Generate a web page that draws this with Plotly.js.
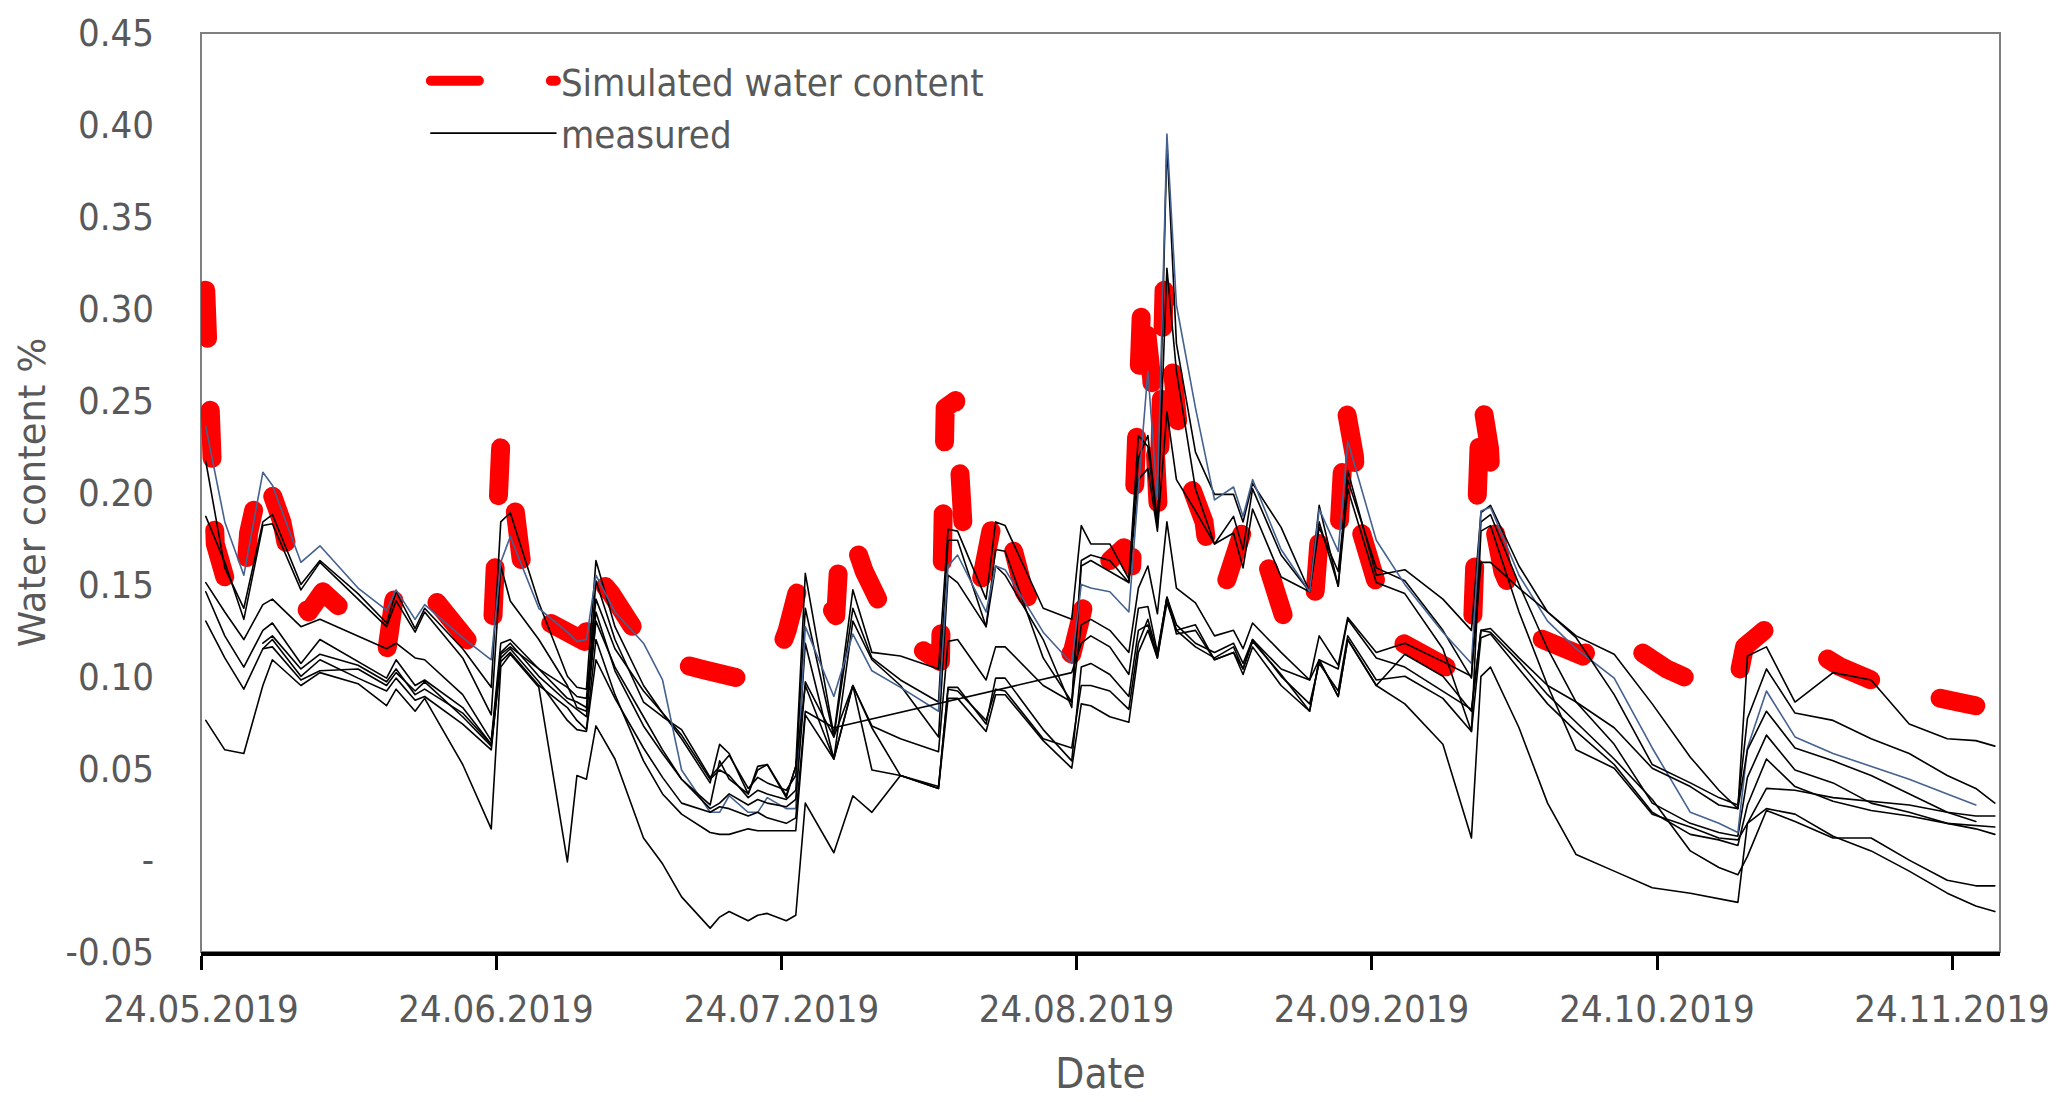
<!DOCTYPE html>
<html>
<head>
<meta charset="utf-8">
<script src="https://cdn.plot.ly/plotly-3.0.1.min.js"></script>
<style>
  html, body { margin: 0; padding: 0; background: #fff; }
  #chart { width: 2067px; height: 1102px; }
  .js-line { stroke-linecap: round; stroke-linejoin: round; }
</style>
</head>
<body>
<div id="chart"></div>
<script>
// days after 24.05.2019 (measurements logged around noon)
const measDays = [0.5, 2.5, 4.5, 6.5, 7.5, 10.5, 12.5, 16.5, 19.5, 20.5, 22.5, 23.5, 27.5, 30.5,
  31.5, 32.5, 35.5, 38.5, 39.5, 40.5, 41.5, 43.5, 46.5, 48.5, 50.5, 53.5, 54.5, 55.5, 57.5, 58.5, 59.5, 61.5, 62.5,
  63.5, 66.5, 68.5, 70.5, 73.5, 77.5, 78.5, 79.5, 82.5, 83.5, 84.5, 88.5, 91.5, 92.5,
  93.5, 95.5, 97.5, 98.5, 99.5, 100.5, 101.5, 102.5, 104.5, 106.5, 108.5, 109.5, 110.5, 113.5, 116.5, 117.5, 119.5, 120.5, 123.5,
  126.5, 130.5, 133.5, 134.5, 135.5, 138.5, 141.5, 144.5, 148.5, 152.5, 156.5, 159.5,
  161.5, 162.5, 164.5, 167.5, 171.5, 175.5, 179.5, 183.5, 186.5, 188.5];

// measured probes (blue one is drawn in slate blue)
const probeBlue = [0.236, 0.184, 0.155, 0.211, 0.204, 0.162, 0.171, 0.148, 0.136, 0.147, 0.131, 0.139, 0.121, 0.109,
  0.162, 0.176, 0.137, 0.124, 0.119, 0.120, 0.155, 0.135, 0.118, 0.098, 0.049, 0.026, 0.026, 0.035, 0.026, 0.026, 0.034, 0.028, 0.028,
  0.127, 0.089, 0.123, 0.103, 0.094, 0.081, 0.160, 0.166, 0.135, 0.160, 0.158, 0.124, 0.107, 0.150,
  0.148, 0.146, 0.135, 0.202, 0.266, 0.196, 0.395, 0.302, 0.246, 0.196, 0.203, 0.187, 0.207, 0.169, 0.146, 0.191, 0.168, 0.228, 0.174,
  0.150, 0.124, 0.107, 0.190, 0.192, 0.155, 0.130, 0.115, 0.099, 0.061, 0.026, 0.020,
  0.015, 0.061, 0.092, 0.067, 0.058, 0.051, 0.044, 0.036, 0.030, null];
const probe1 = [0.217, 0.159, 0.137, 0.184, 0.188, 0.150, 0.163, 0.145, 0.129, 0.146, 0.126, 0.137, 0.115, 0.094,
  0.184, 0.189, 0.140, 0.100, 0.094, 0.093, 0.163, 0.127, 0.095, 0.080, 0.066, 0.042, 0.063, 0.058, 0.036, 0.049, 0.052, 0.035, 0.051,
  0.156, 0.068, 0.147, 0.113, 0.111, 0.104, 0.180, 0.179, 0.142, 0.184, 0.182, 0.137, 0.131, 0.182,
  0.172, 0.172, 0.153, 0.231, 0.225, 0.181, 0.390, 0.281, 0.222, 0.199, 0.199, 0.184, 0.205, 0.181, 0.146, 0.193, 0.149, 0.212, 0.155,
  0.158, 0.142, 0.125, 0.189, 0.193, 0.160, 0.135, 0.122, 0.112, 0.085, 0.056, 0.038,
  0.028, 0.111, 0.116, 0.086, 0.102, 0.098, 0.074, 0.066, 0.065, 0.062];
const probe2 = [0.187, 0.162, 0.131, 0.182, 0.183, 0.147, 0.162, 0.142, 0.127, 0.141, 0.124, 0.135, 0.110, 0.079,
  0.160, 0.141, 0.120, 0.095, 0.083, 0.081, 0.152, 0.120, 0.086, 0.078, 0.071, 0.045, 0.051, 0.057, 0.039, 0.045, 0.042, 0.038, 0.046,
  0.137, 0.067, 0.137, 0.110, 0.098, 0.086, 0.174, 0.174, 0.127, 0.169, 0.168, 0.110, 0.086, 0.163,
  0.166, 0.163, 0.151, 0.219, 0.231, 0.184, 0.322, 0.266, 0.202, 0.172, 0.187, 0.169, 0.202, 0.166, 0.146, 0.181, 0.157, 0.207, 0.159,
  0.152, 0.125, 0.099, 0.184, 0.188, 0.150, 0.115, 0.086, 0.063, 0.031, 0.020, 0.015,
  0.013, 0.045, 0.068, 0.049, 0.042, 0.031, 0.026, 0.020, 0.017, 0.014];
const probe3 = [0.151, 0.135, 0.120, 0.139, 0.142, 0.127, 0.131, 0.122, 0.115, 0.118, 0.110, 0.109, 0.090, 0.065,
  0.118, 0.120, 0.104, 0.094, 0.089, 0.088, 0.142, 0.115, 0.092, 0.080, 0.068, 0.044, 0.049, 0.046, 0.034, 0.038, 0.036, 0.033, 0.038,
  0.118, 0.055, 0.130, 0.109, 0.095, 0.067, 0.155, 0.151, 0.127, 0.160, 0.155, 0.120, 0.083, 0.160,
  0.163, 0.157, 0.151, 0.207, 0.213, 0.179, 0.244, 0.207, 0.190, 0.172, 0.178, 0.159, 0.191, 0.154, 0.146, 0.184, 0.149, 0.202, 0.151,
  0.145, 0.115, 0.070, 0.179, 0.182, 0.135, 0.095, 0.060, 0.050, 0.025, 0.018, 0.012,
  0.011, 0.020, 0.039, 0.038, 0.034, 0.032, 0.030, 0.026, 0.024, 0.024];
const probe4 = [0.146, 0.122, 0.105, 0.125, 0.129, 0.107, 0.120, 0.108, 0.099, 0.109, 0.095, 0.098, 0.083, 0.063,
  0.113, 0.118, 0.100, 0.086, 0.082, 0.078, 0.130, 0.105, 0.078, 0.060, 0.044, 0.028, 0.031, 0.036, 0.030, 0.033, 0.031, 0.029, 0.033,
  0.097, 0.067, 0.095, 0.073, 0.066, 0.059, 0.119, 0.120, 0.098, 0.116, 0.116, 0.095, 0.086, 0.128,
  0.131, 0.125, 0.113, 0.148, 0.160, 0.134, 0.184, 0.148, 0.140, 0.122, 0.125, 0.115, 0.129, 0.113, 0.098, 0.122, 0.106, 0.132, 0.113,
  0.118, 0.108, 0.100, 0.162, 0.162, 0.148, 0.135, 0.121, 0.090, 0.052, 0.042, 0.034,
  0.030, 0.077, 0.104, 0.080, 0.076, 0.066, 0.058, 0.046, 0.039, 0.031];
// probe 5 has no readings from 26.07 to 21.08 (Excel joins the gap with a straight line)
const probe5 = [0.130, 0.110, 0.093, 0.115, 0.120, 0.100, 0.109, 0.099, 0.092, 0.099, 0.087, 0.089, 0.074, 0.060,
  0.110, 0.115, 0.097, 0.076, 0.071, 0.070, 0.109, 0.088, 0.061, 0.045, 0.031, 0.026, 0.029, 0.028, 0.024, 0.026, 0.023, 0.020, 0.023,
  0.081, 0.072, null, null, null, null, null, null, null, null, null, null, 0.102, 0.118,
  0.122, 0.116, 0.101, 0.137, 0.138, 0.113, 0.143, 0.128, 0.118, 0.113, 0.118, 0.107, 0.120, 0.104, 0.098, 0.109, 0.104, 0.131, 0.110,
  0.105, 0.092, 0.082, 0.125, 0.126, 0.110, 0.095, 0.086, 0.072, 0.050, 0.040, 0.030,
  0.028, 0.060, 0.081, 0.061, 0.054, 0.046, 0.036, 0.026, 0.021, null];
const probe6 = [null, null, null, 0.115, 0.116, 0.098, 0.103, 0.104, 0.095, 0.102, 0.092, 0.097, 0.078, 0.062,
  0.108, 0.113, 0.095, 0.083, 0.076, 0.071, 0.120, 0.090, 0.054, 0.036, 0.025, 0.015, 0.014, 0.014, 0.017, 0.016, 0.016, 0.016, 0.016,
  0.079, 0.055, 0.095, 0.072, 0.046, 0.039, 0.094, 0.094, 0.074, 0.099, 0.099, 0.071, 0.054, 0.105,
  0.107, 0.101, 0.089, 0.125, 0.128, 0.110, 0.140, 0.125, 0.116, 0.110, 0.116, 0.104, 0.119, 0.101, 0.081, 0.109, 0.089, 0.120, 0.095,
  0.112, 0.100, 0.081, 0.125, 0.124, 0.108, 0.090, 0.075, 0.055, 0.033, 0.005, -0.004,
  -0.008, 0.002, 0.027, 0.021, 0.012, 0.012, 0.000, -0.011, -0.014, -0.014];
const probe7 = [null, null, null, 0.118, 0.122, 0.104, 0.112, 0.106, 0.097, 0.104, 0.090, 0.093, 0.080, 0.063,
  0.112, 0.116, 0.104, 0.088, 0.086, 0.083, 0.135, 0.103, 0.073, 0.058, 0.044, 0.030, 0.054, 0.044, 0.036, 0.051, 0.052, 0.034, 0.051,
  0.095, 0.055, 0.095, 0.049, 0.046, 0.040, 0.093, 0.092, 0.076, 0.093, 0.092, 0.066, 0.061, 0.095,
  0.095, 0.092, 0.082, 0.118, 0.131, 0.112, 0.143, 0.125, 0.128, 0.109, 0.113, 0.104, 0.120, 0.100, 0.085, 0.107, 0.092, 0.122, 0.098,
  0.100, 0.088, 0.070, 0.121, 0.123, 0.104, 0.085, 0.070, 0.052, 0.026, 0.014, 0.011,
  0.008, 0.030, 0.055, 0.040, 0.032, 0.027, 0.024, 0.020, 0.019, 0.018];
const probe8 = [0.076, 0.060, 0.058, 0.095, 0.109, 0.095, 0.102, 0.096, 0.084, 0.093, 0.081, 0.088, 0.052, 0.017,
  0.105, 0.112, 0.094, -0.001, 0.046, 0.044, 0.073, 0.055, 0.012, -0.002, -0.020, -0.037, -0.031, -0.028, -0.033, -0.030, -0.029, -0.033, -0.030,
  0.031, 0.004, 0.035, 0.026, 0.046, 0.039, 0.088, 0.088, 0.070, 0.090, 0.090, 0.065, 0.050, 0.085,
  0.084, 0.078, 0.075, 0.113, 0.125, 0.110, 0.143, 0.123, 0.125, 0.109, 0.113, 0.101, 0.116, 0.095, 0.081, 0.109, 0.089, 0.120, 0.095,
  0.085, 0.063, 0.012, 0.100, 0.105, 0.072, 0.031, 0.003, -0.006, -0.015, -0.018, -0.021,
  -0.023, 0.020, 0.028, 0.025, 0.013, 0.005, -0.006, -0.018, -0.025, -0.028];

// simulated water content
const simDays = [0.5, 1.5, 3.0, 4.5, 5.0, 6.5, 8.5, 10.0, 11.3, 12.8, 14.5, 15.8, 19.5, 20.5, 22.5, 24.5, 27.0, 29.5, 30.5,
  31.5, 32.9, 33.8, 36.3, 40.3, 41.5, 43.1, 46.2, 49.5, 52.5, 56.5, 58.1, 60.0, 61.6, 63.2, 64.4, 66.7, 67.2, 68.5, 69.7,
  72.8, 77.7, 78.2, 79.3, 79.7, 80.1, 81.9, 82.7, 83.5, 84.8, 86.5, 89.6, 91.5, 92.6, 93.8, 95.5, 97.0, 97.8,
  98.2, 98.9, 99.9, 100.6, 101.2, 102.2, 103.1, 105.4, 106.3, 107.7, 108.4, 109.9, 111.6, 113.8, 115.5, 116.8,
  117.5, 118.3, 119.5, 120.3, 121.2, 121.6, 123.5, 125.6, 131.6, 133.5, 134.5, 135.4, 135.8, 136.8, 139.6, 145.2,
  147.5, 149.1, 154.0, 157.0, 160.4, 161.5, 162.2, 164.5, 166.7, 172.3, 175.5, 178.3, 184.6, 186.5];
const simValues = [0.310, 0.172, 0.145, 0.143, 0.178, 0.213, 0.184, 0.145, 0.135, 0.146, 0.138, 0.131, 0.113, 0.150, 0.137, 0.142, 0.124, 0.110, 0.112,
  0.226, 0.195, 0.157, 0.130, 0.119, 0.155, 0.145, 0.120, 0.108, 0.104, 0.099, 0.100, 0.102, 0.125, 0.157, 0.152, 0.133, 0.178, 0.175, 0.157,
  0.124, 0.108, 0.246, 0.250, 0.217, 0.180, 0.150, 0.168, 0.192, 0.180, 0.146, 0.120, 0.112, 0.135, 0.166, 0.163, 0.170, 0.160,
  0.205, 0.310, 0.262, 0.190, 0.310, 0.249, 0.216, 0.184, 0.147, 0.151, 0.163, 0.186, 0.168, 0.132, 0.125, 0.127,
  0.175, 0.163, 0.172, 0.246, 0.220, 0.184, 0.151, 0.120, 0.103, 0.112, 0.253, 0.224, 0.184, 0.157, 0.123, 0.111,
  0.124, 0.121, 0.104, 0.097, 0.092, 0.098, 0.116, 0.126, 0.123, 0.105, 0.098, 0.093, 0.086, 0.084];

const yTickVals = [-0.05, 0, 0.05, 0.10, 0.15, 0.20, 0.25, 0.30, 0.35, 0.40, 0.45];
const yTickText = ['-0.05', '-', '0.05', '0.10', '0.15', '0.20', '0.25', '0.30', '0.35', '0.40', '0.45'];

function dayToDate(d) {
  const t = Date.UTC(2019, 4, 24) + d * 86400000;
  return new Date(t).toISOString().slice(0, 16).replace('T', ' ');
}
const measDates = measDays.map(dayToDate);
const simDates = simDays.map(dayToDate);

const textGrey = '#595959';
const narrow = '"Liberation Sans Narrow", "DejaVu Sans Condensed", "Liberation Sans", sans-serif';

var simTrace = {
  x: simDates,
  y: simValues,
  mode: 'lines',
  name: 'Simulated water content',
  line: {color: '#ff0000', width: 19, dash: '48px,72px'},
};

var probes = [probe1, probe2, probe3, probeBlue, probe4, probe5, probe6, probe7, probe8];
var measTraces = probes.map(function (vals, i) {
  return {
    x: measDates,
    y: vals,
    mode: 'lines',
    name: 'measured',
    legendgroup: 'measured',
    showlegend: i === 0,
    connectgaps: vals === probe5,
    line: {color: vals === probeBlue ? '#44618f' : '#000000', width: 1.6},
  };
});

var data = [simTrace].concat(measTraces);

var layout = {
  width: 2067,
  height: 1102,
  margin: {l: 201, r: 67, t: 33, b: 150},
  paper_bgcolor: '#ffffff',
  plot_bgcolor: '#ffffff',
  showlegend: true,
  legend: {
    x: 0.125, y: 0.982, xanchor: 'left', yanchor: 'top',
    bgcolor: 'rgba(0,0,0,0)',
    itemwidth: 125,
    tracegroupgap: 0,
    font: {family: narrow, size: 38, color: textGrey},
  },
  xaxis: {
    type: 'date',
    range: ['2019-05-24', '2019-11-29 01:00'],
    tick0: '2019-05-24',
    dtick: 'M1',
    tickformat: '%d.%m.%Y',
    ticks: 'outside',
    ticklen: 14,
    tickwidth: 3,
    tickcolor: '#000000',
    ticklabelstandoff: 6,
    showgrid: false,
    zeroline: false,
    showline: true,
    linecolor: '#000000',
    linewidth: 4,
    tickfont: {family: narrow, size: 38, color: textGrey},
    title: {text: 'Date', standoff: 30, font: {family: narrow, size: 42, color: textGrey}},
  },
  yaxis: {
    range: [-0.05, 0.45],
    tickvals: yTickVals,
    ticktext: yTickText,
    ticks: '',
    ticklabelstandoff: 46,
    showgrid: false,
    zeroline: false,
    showline: false,
    tickfont: {family: narrow, size: 38, color: textGrey},
    title: {text: 'Water content %', standoff: 8, font: {family: '"DejaVu Sans", Verdana, sans-serif', size: 37, color: textGrey}},
  },
  shapes: [{
    type: 'rect', xref: 'paper', yref: 'paper', x0: 0, x1: 1, y0: 0, y1: 1,
    line: {color: '#7f7f7f', width: 2}, layer: 'below',
  }],
};

Plotly.newPlot('chart', data, layout, {staticPlot: true});
</script>
</body>
</html>
